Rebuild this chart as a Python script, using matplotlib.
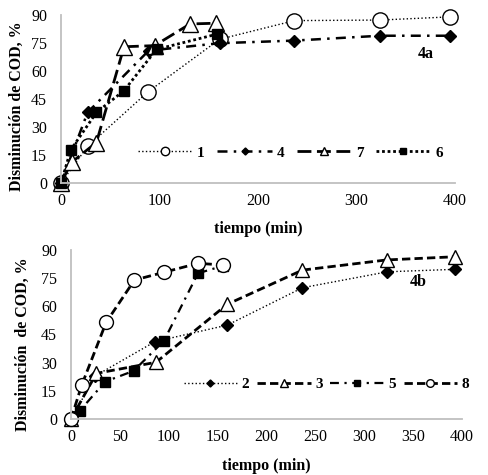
import matplotlib
matplotlib.use("Agg")
import matplotlib.pyplot as plt

plt.rcParams['font.family'] = ['Liberation Serif', 'DejaVu Serif']

# ---- Figure 4a data ----
t1 = [0, 27, 88, 161, 237, 324, 395]
y1 = [0, 19.6, 48.7, 77, 87, 87.3, 89]
t4 = [0, 27, 89, 161, 237, 324, 395]
y4 = [0, 37.8, 70.9, 74.9, 76.3, 78.9, 78.9]
t7 = [0, 11, 36, 64, 95, 131, 157]
y7 = [0, 11.2, 21.7, 73, 73.6, 85.2, 85.6]
t6 = [0, 10, 36, 64, 97, 158]
y6 = [0, 17.8, 37.8, 49.5, 71.6, 79.7]

# ---- Figure 4b data ----
t2 = [0, 25, 86, 160, 237, 324, 393]
y2 = [0, 23, 41.2, 50, 69.9, 78.4, 79.7]
t3 = [0, 26, 87, 160, 237, 323, 393]
y3 = [0, 24.3, 30.2, 61.1, 79.3, 84.7, 86.4]
t5 = [0, 9, 35, 64, 95, 130, 156]
y5 = [0, 4.4, 19.9, 25.6, 41.5, 77.6, 81.6]
t8 = [0, 11, 36, 65, 95, 130, 156]
y8 = [0, 18.1, 51.5, 74, 78.1, 82.9, 82]

yticks = [0, 15, 30, 45, 60, 75, 90]

fig = plt.figure(figsize=(4.89, 4.75), dpi=100)
ax1 = fig.add_axes([0.1247, 0.6147, 0.8057, 0.3537])
ax2 = fig.add_axes([0.1452, 0.1179, 0.7990, 0.3558])


def style_axes(ax, xticks):
    ax.set_xlim(0, 400)
    ax.set_ylim(0, 90)
    ax.set_xticks(xticks)
    ax.set_yticks(yticks)
    for s in ['top', 'right']:
        ax.spines[s].set_visible(False)
    for s in ['left', 'bottom']:
        ax.spines[s].set_color('#bfbfbf')
        ax.spines[s].set_linewidth(1.3)
    ax.tick_params(length=0, labelsize=11.5)
    ax.tick_params(axis='y', pad=10)
    ax.tick_params(axis='x', pad=7)


# top chart
ax1.plot(t1, y1, ls=':', lw=1, color='black', marker='o', ms=11,
         mfc='white', mec='black', mew=1, clip_on=False, label='1')
ax1.plot(t4, y4, ls=(0, (4, 2.5, 1, 2.5)), lw=1.8, color='black', marker='D',
         ms=6.5, mfc='black', mec='black', clip_on=False, label='4')
ax1.plot(t7, y7, ls=(0, (5, 2)), lw=2, color='black', marker='^', ms=11,
         mfc='white', mec='black', mew=1, clip_on=False, label='7')
ax1.plot(t6, y6, ls=(0, (1, 1)), lw=2, color='black', marker='s', ms=7.5,
         mfc='black', mec='black', clip_on=False, label='6')
style_axes(ax1, [0, 100, 200, 300, 400])
ax1.set_xlabel('tiempo (min)', fontsize=11.5, fontweight='bold')
ax1.set_ylabel('Disminución de COD, %', fontsize=11.5, fontweight='bold')
ax1.xaxis.set_label_coords(0.5, -0.226)
ax1.yaxis.set_label_coords(-0.092, 0.46)
ax1.text(0.926, 0.768, '4a', transform=ax1.transAxes, fontsize=11.5,
         fontweight='bold', ha='center', va='center')
ax1.legend(loc='center left', bbox_to_anchor=(0.175, 0.18), ncol=4,
           frameon=False, handlelength=3.6, handletextpad=0.3,
           columnspacing=0.8, markerscale=0.55, borderpad=0,
           prop={'weight': 'bold', 'size': 11})

# bottom chart
ax2.plot(t2, y2, ls=':', lw=1, color='black', marker='D', ms=6.5,
         mfc='black', mec='black', clip_on=False, label='2')
ax2.plot(t3, y3, ls=(0, (3, 1.5)), lw=2, color='black', marker='^', ms=10,
         mfc='white', mec='black', mew=1, clip_on=False, label='3')
ax2.plot(t5, y5, ls=(0, (4, 2.5, 1, 2.5)), lw=1.6, color='black', marker='s',
         ms=7.5, mfc='black', mec='black', clip_on=False, label='5')
ax2.plot(t8, y8, ls=(0, (3, 1.5)), lw=2, color='black', marker='o', ms=10,
         mfc='white', mec='black', mew=1, clip_on=False, label='8')
style_axes(ax2, [0, 50, 100, 150, 200, 250, 300, 350, 400])
ax2.set_xlabel('tiempo (min)', fontsize=11.5, fontweight='bold')
ax2.set_ylabel('Disminución  de COD, %', fontsize=11.5, fontweight='bold')
ax2.xaxis.set_label_coords(0.5, -0.23)
ax2.yaxis.set_label_coords(-0.103, 0.44)
ax2.text(0.888, 0.81, '4b', transform=ax2.transAxes, fontsize=11.5,
         fontweight='bold', ha='center', va='center')
ax2.legend(loc='center left', bbox_to_anchor=(0.269, 0.207), ncol=4,
           frameon=False, handlelength=3.5, handletextpad=0.3,
           columnspacing=0.5, markerscale=0.55, borderpad=0,
           prop={'weight': 'bold', 'size': 11})

fig.savefig('out.png', dpi=100)
